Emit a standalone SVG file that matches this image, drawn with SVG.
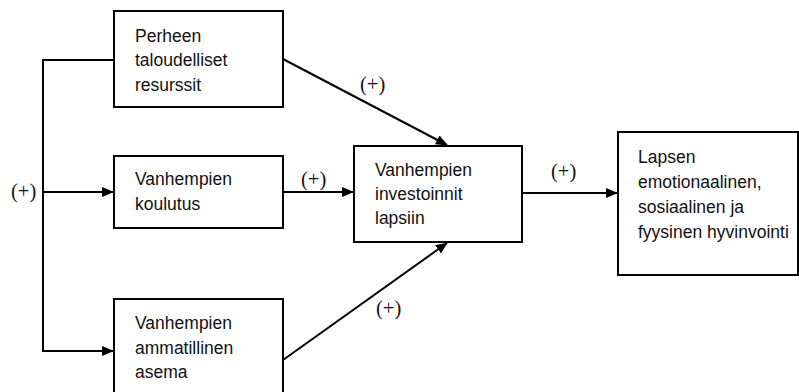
<svg xmlns="http://www.w3.org/2000/svg" width="799" height="392" viewBox="0 0 799 392">
  <style>
    .box { fill: #fff; stroke: #000; stroke-width: 2; }
    .lbl { font-family: "Liberation Sans", Arial, sans-serif; font-size: 17.5px; fill: #111; }
    .sign { font-family: "Liberation Serif", "Times New Roman", serif; font-size: 20.5px; fill: #111; }
    .wire { fill: none; stroke: #000; stroke-width: 2; }
  </style>
  <defs>
    <marker id="arrow" markerUnits="userSpaceOnUse" markerWidth="12" markerHeight="10" refX="11" refY="5" orient="auto">
      <path d="M0,0 L12,5 L0,10 Z" fill="#000"/>
    </marker>
  </defs>
  <rect width="799" height="392" fill="#fff"/>

  <g id="connectors">
    <path class="wire" d="M114,60 H43 V351 H113" marker-end="url(#arrow)"/>
    <line class="wire" x1="43" y1="192" x2="113" y2="192" marker-end="url(#arrow)"/>
    <line class="wire" x1="283" y1="59" x2="447" y2="145" marker-end="url(#arrow)"/>
    <line class="wire" x1="283" y1="192" x2="353" y2="192" marker-end="url(#arrow)"/>
    <line class="wire" x1="283" y1="360" x2="447" y2="243" marker-end="url(#arrow)"/>
    <line class="wire" x1="522" y1="193" x2="617" y2="193" marker-end="url(#arrow)"/>
    <text class="sign" x="11" y="198">(+)</text>
    <text class="sign" x="360" y="91">(+)</text>
    <text class="sign" x="301" y="186">(+)</text>
    <text class="sign" x="376" y="315">(+)</text>
    <text class="sign" x="551" y="178">(+)</text>
  </g>

  <g id="perheen-taloudelliset-resurssit">
    <rect class="box" x="114" y="11" width="169" height="96"/>
    <text class="lbl" x="135" y="42">Perheen</text>
    <text class="lbl" x="135" y="66">taloudelliset</text>
    <text class="lbl" x="135" y="91">resurssit</text>
  </g>

  <g id="vanhempien-koulutus">
    <rect class="box" x="114" y="156" width="169" height="72"/>
    <text class="lbl" x="135" y="185">Vanhempien</text>
    <text class="lbl" x="135" y="210">koulutus</text>
  </g>

  <g id="vanhempien-ammatillinen-asema">
    <rect class="box" x="114" y="299" width="169" height="100"/>
    <text class="lbl" x="135" y="329">Vanhempien</text>
    <text class="lbl" x="135" y="354">ammatillinen</text>
    <text class="lbl" x="135" y="378">asema</text>
  </g>

  <g id="vanhempien-investoinnit">
    <rect class="box" x="354" y="146" width="168" height="96"/>
    <text class="lbl" x="375" y="176">Vanhempien</text>
    <text class="lbl" x="375" y="200">investoinnit</text>
    <text class="lbl" x="375" y="224">lapsiin</text>
  </g>

  <g id="lapsen-hyvinvointi">
    <rect class="box" x="618" y="132" width="180" height="143"/>
    <text class="lbl" x="638" y="163">Lapsen</text>
    <text class="lbl" x="638" y="188">emotionaalinen,</text>
    <text class="lbl" x="638" y="213">sosiaalinen ja</text>
    <text class="lbl" x="638" y="238">fyysinen hyvinvointi</text>
  </g>
</svg>
